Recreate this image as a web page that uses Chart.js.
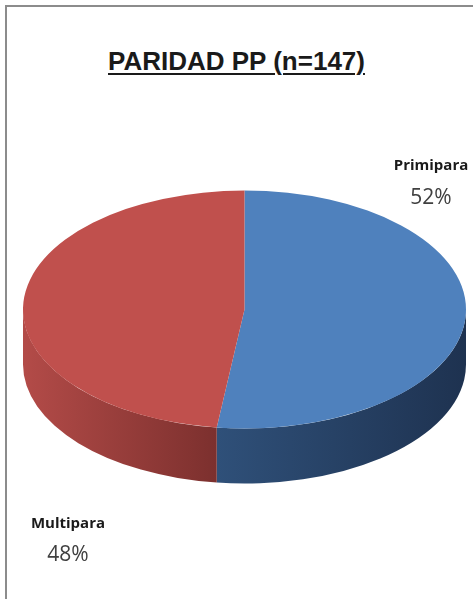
<!DOCTYPE html>
<html>
<head>
<meta charset="utf-8">
<script src="https://cdn.jsdelivr.net/npm/chart.js@4.4.1/dist/chart.umd.min.js"></script>
<style>
  html, body { margin: 0; padding: 0; background: #fff; }
  #wrap { position: relative; width: 473px; height: 599px; overflow: hidden; }
  #frame { position: absolute; left: 5px; top: 5px; width: 600px; height: 700px;
           border-left: 2px solid #8c8c8c; border-top: 2px solid #8c8c8c; }
  #title { position: absolute; left: 0; top: 46px; width: 473px; text-align: center;
           font-family: "Liberation Sans", Arial, sans-serif; font-weight: bold;
           font-size: 26px; color: #1a1a1a; text-decoration: underline;
           text-underline-offset: 3px; text-decoration-thickness: 2px; }
  canvas { position: absolute; left: 0; top: 0; }
</style>
</head>
<body>
<div id="wrap">
  <div id="frame"></div>
  <div id="title">PARIDAD PP (n=147)</div>
  <canvas id="pie-chart" width="473" height="599"></canvas>
</div>
<script>
const categories = ['Primipara', 'Multipara']
const percentages = [52, 48]

const topColors = ['#4f81bd', '#c0504d']
const sideColors = [['#2f5079', '#1e3250'], ['#b34b48', '#7c302e']]

const tilt = 0.537
const depth = 55

const pie3d = {
  id: 'pie3d',
  beforeDatasetsDraw(chart) {
    const ctx = chart.ctx
    const arcs = chart.getDatasetMeta(0).data
    const cx = arcs[0].x
    const cy = arcs[0].y
    const rx = arcs[0].outerRadius
    const ry = rx * tilt

    // visible rim: lower half of the ellipse, one band per slice
    arcs.forEach((arc, i) => {
      const a0 = Math.max(arc.startAngle, 0)
      const a1 = Math.min(arc.endAngle, Math.PI)
      if (a1 <= a0) return
      const xs = [cx + rx * Math.cos(a0), cx + rx * Math.cos(a1)]
      const left = Math.min(...xs, a0 <= Math.PI / 2 && a1 >= Math.PI / 2 ? cx : Infinity)
      const right = Math.max(...xs)
      const grad = ctx.createLinearGradient(left, 0, right, 0)
      grad.addColorStop(0, sideColors[i][0])
      grad.addColorStop(1, sideColors[i][1])
      ctx.save()
      ctx.beginPath()
      ctx.ellipse(cx, cy, rx, ry, 0, a0, a1)
      ctx.ellipse(cx, cy + depth, rx, ry, 0, a1, a0, true)
      ctx.closePath()
      ctx.fillStyle = grad
      ctx.fill()
      ctx.restore()
    })

    // squash the top face
    ctx.save()
    ctx.translate(cx, cy)
    ctx.scale(1, tilt)
    ctx.translate(-cx, -cy)
  },
  afterDatasetsDraw(chart) {
    chart.ctx.restore()
  },
  afterDraw(chart) {
    const ctx = chart.ctx
    const area = chart.chartArea
    const spots = [
      [area.right - 35, area.top + 78, 32],
      [area.left + 45, area.bottom - 7, 31]
    ]
    ctx.save()
    ctx.textAlign = 'center'
    ctx.textBaseline = 'middle'
    categories.forEach((name, i) => {
      const [x, y, gap] = spots[i]
      ctx.fillStyle = '#1a1a1a'
      ctx.font = 'bold 15px "Open Sans", sans-serif'
      ctx.fillText(name, x, y)
      ctx.fillStyle = '#404040'
      ctx.font = '21px "Open Sans", sans-serif'
      ctx.fillText(percentages[i] + '%', x, y + gap)
    })
    ctx.restore()
  }
}

const pieCanvas = document.getElementById('pie-chart')
const pieChart = new Chart(pieCanvas, {
  type: 'pie',
  data: {
    labels: categories,
    datasets: [{
      data: percentages,
      backgroundColor: topColors,
      borderWidth: 0
    }]
  },
  options: {
    responsive: false,
    animation: false,
    events: [],
    layout: {
      padding: { left: 23, right: 7, top: 88, bottom: 68 }
    },
    plugins: {
      legend: { display: false },
      tooltip: { enabled: false },
      title: { display: false }
    }
  },
  plugins: [pie3d]
})
</script>
</body>
</html>
